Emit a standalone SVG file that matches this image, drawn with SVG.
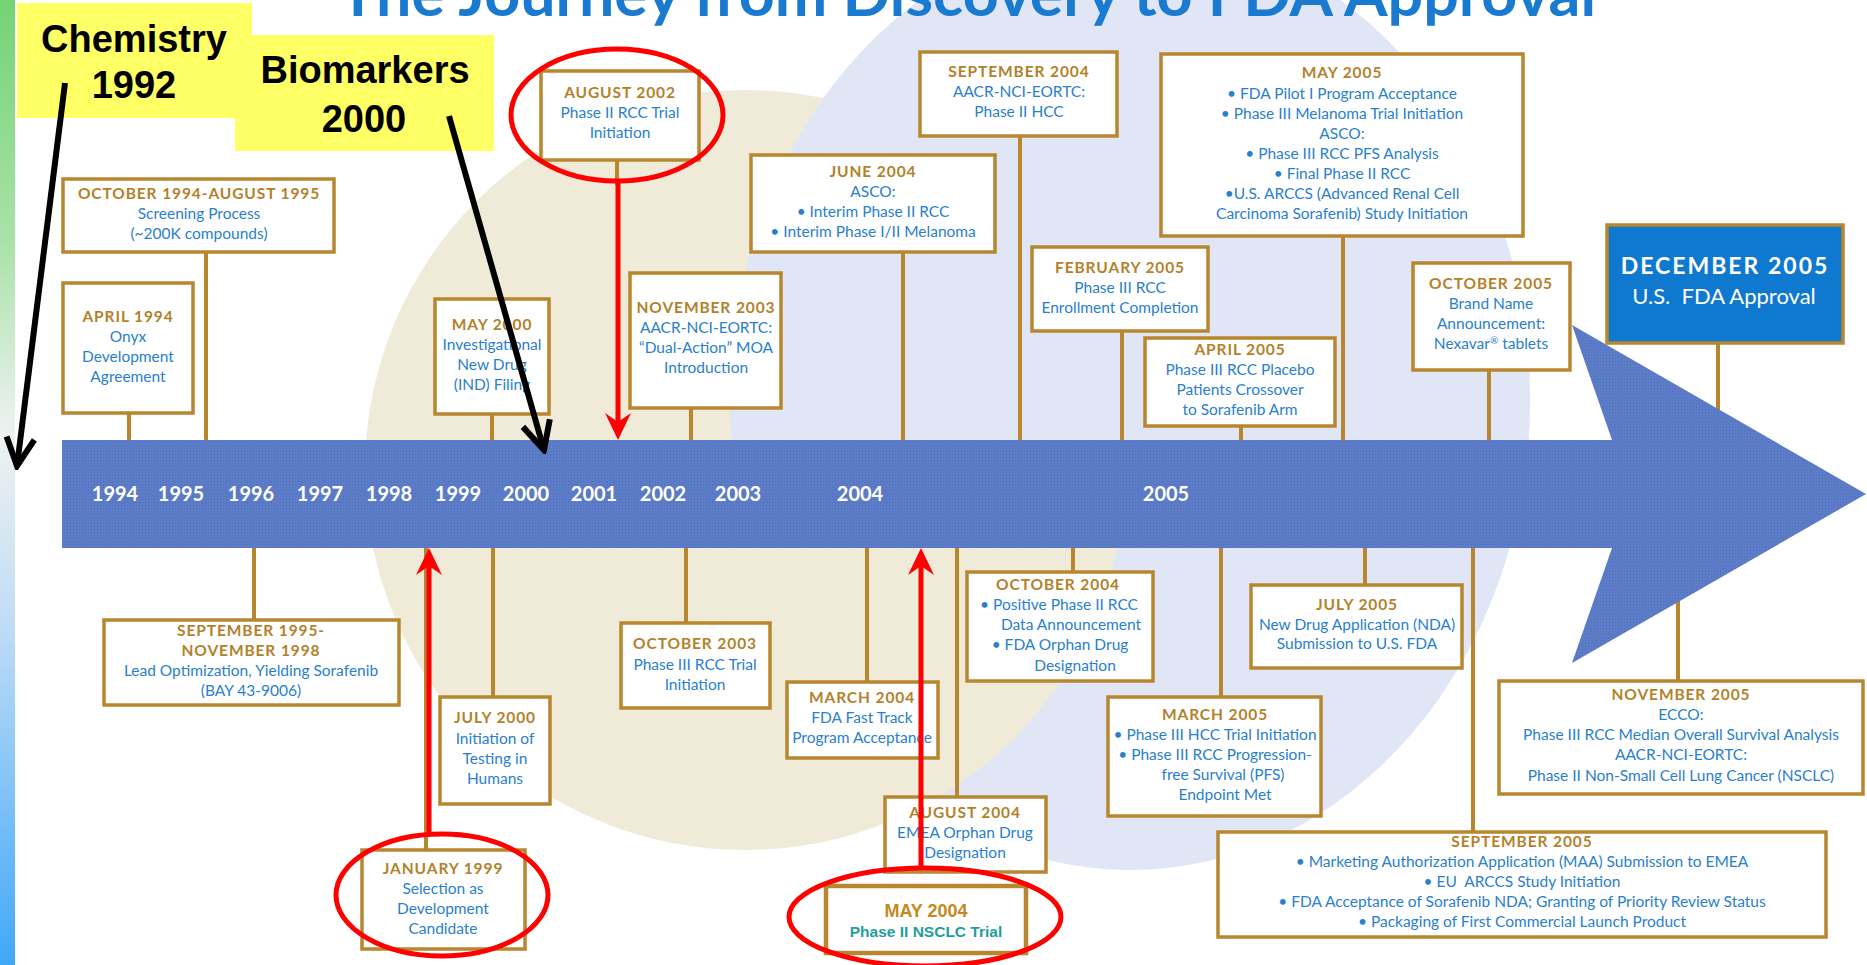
<svg xmlns="http://www.w3.org/2000/svg" width="1867" height="965" viewBox="0 0 1867 965">
<defs>
<style>
.box{fill:#fff;stroke:#b8862e;stroke-width:3.5}
.hd{font-family:Lato,'Liberation Sans',sans-serif;font-weight:700;font-size:15.5px;fill:#b3812a;letter-spacing:0.9px;text-anchor:middle}
.tx{font-family:Lato,'Liberation Sans',sans-serif;font-size:15.5px;fill:#2a80cd;text-anchor:middle}
.conn{stroke:#b8862e;stroke-width:4;fill:none}
.yr{font-family:Lato,'Liberation Sans',sans-serif;font-weight:700;font-size:20px;fill:#fff;text-anchor:middle}
.red{stroke:#ff0000;stroke-width:5;fill:none}
.blk{stroke:#000;stroke-width:6;fill:none}
.ylw{fill:#ffff66}
.big{font-family:'Liberation Sans',Arial,sans-serif;font-weight:700;font-size:38px;fill:#000;text-anchor:middle}
</style>
<linearGradient id="strip" x1="0" y1="0" x2="0" y2="1">
<stop offset="0" stop-color="#74d374"/>
<stop offset="0.25" stop-color="#a9e2a9"/>
<stop offset="0.45" stop-color="#eef2f1"/>
<stop offset="0.65" stop-color="#bfdcf6"/>
<stop offset="1" stop-color="#40a8f8"/>
</linearGradient>
<pattern id="barTex" width="3" height="3" patternUnits="userSpaceOnUse">
<rect width="3" height="3" fill="#5c7cc7"/>
<rect x="1" y="1" width="1" height="1" fill="#5070bd"/>
</pattern>
<clipPath id="upper"><rect x="0" y="0" width="1867" height="494"/></clipPath>
<marker id="arrBlk" markerUnits="userSpaceOnUse" viewBox="-34 -18 38 36" markerWidth="38" markerHeight="36" refX="0" refY="0" orient="auto">
<path d="M-28,-14 L0,0 L-28,14" fill="none" stroke="#000" stroke-width="6"/>
</marker>
<marker id="arrRed" markerUnits="userSpaceOnUse" viewBox="-30 -15 32 30" markerWidth="32" markerHeight="30" refX="-10" refY="0" orient="auto">
<path d="M0,0 L-27,-13 L-18,0 L-27,13 Z" fill="#ff0000"/>
</marker>
</defs>

<g id="background">
<rect width="1867" height="965" fill="#ffffff"/>
<ellipse cx="1130" cy="400" rx="400" ry="470" fill="#e1e6f6"/>
<circle cx="745" cy="470" r="380" fill="#f0ebd9"/>
<ellipse cx="1130" cy="400" rx="400" ry="470" fill="#e1e6f6" clip-path="url(#upper)"/>
<rect x="0" y="0" width="15" height="965" fill="url(#strip)"/>
<text x="339" y="16" textLength="1257" lengthAdjust="spacingAndGlyphs" style="font-family:Lato,'Liberation Sans',sans-serif;font-weight:700;font-size:62px;fill:#1a7ad0">The Journey from Discovery to FDA Approval</text>
</g>

<g id="connectors">
<line class="conn" x1="206" y1="252" x2="206" y2="445"/>
<line class="conn" x1="129" y1="413" x2="129" y2="445"/>
<line class="conn" x1="492" y1="414" x2="492" y2="445"/>
<line class="conn" x1="617" y1="159" x2="617" y2="185"/>
<line class="conn" x1="691" y1="408" x2="691" y2="445"/>
<line class="conn" x1="903" y1="252" x2="903" y2="445"/>
<line class="conn" x1="1020" y1="136" x2="1020" y2="445"/>
<line class="conn" x1="1122" y1="331" x2="1122" y2="445"/>
<line class="conn" x1="1241" y1="426" x2="1241" y2="445"/>
<line class="conn" x1="1343" y1="236" x2="1343" y2="445"/>
<line class="conn" x1="1489" y1="370" x2="1489" y2="445"/>
<line class="conn" x1="1718" y1="343" x2="1718" y2="420"/>
<line class="conn" x1="254" y1="543" x2="254" y2="620"/>
<line class="conn" x1="493" y1="543" x2="493" y2="697"/>
<line class="conn" x1="426" y1="543" x2="426" y2="850"/>
<line class="conn" x1="686" y1="543" x2="686" y2="623"/>
<line class="conn" x1="867" y1="543" x2="867" y2="682"/>
<line class="conn" x1="957" y1="543" x2="957" y2="797"/>
<line class="conn" x1="1073" y1="543" x2="1073" y2="572"/>
<line class="conn" x1="1221" y1="543" x2="1221" y2="697"/>
<line class="conn" x1="1365" y1="543" x2="1365" y2="585"/>
<line class="conn" x1="1473" y1="543" x2="1473" y2="832"/>
<line class="conn" x1="1678" y1="595" x2="1678" y2="681"/>
</g>

<g id="timeline">
<polygon points="62,440 1612,440 1572,325 1866,494 1572,663 1612,548 62,548" fill="url(#barTex)"/>
<text class="yr" x="115" y="501">1994</text>
<text class="yr" x="181" y="501">1995</text>
<text class="yr" x="251" y="501">1996</text>
<text class="yr" x="320" y="501">1997</text>
<text class="yr" x="389" y="501">1998</text>
<text class="yr" x="458" y="501">1999</text>
<text class="yr" x="526" y="501">2000</text>
<text class="yr" x="594" y="501">2001</text>
<text class="yr" x="663" y="501">2002</text>
<text class="yr" x="738" y="501">2003</text>
<text class="yr" x="860" y="501">2004</text>
<text class="yr" x="1166" y="501">2005</text>
</g>

<g id="chemistry-1992">
<rect class="ylw" x="17" y="3" width="235" height="115"/>
<text class="big" x="134" y="52">Chemistry</text>
<text class="big" x="134" y="98">1992</text>
</g>
<g id="biomarkers-2000">
<rect class="ylw" x="235" y="35" width="259" height="116"/>
<text class="big" x="365" y="83">Biomarkers</text>
<text class="big" x="364" y="132">2000</text>
</g>

<g id="oct1994-aug1995">
<rect class="box" x="63" y="179" width="271" height="73"/>
<text class="hd" x="199" y="199">OCTOBER 1994-AUGUST 1995</text>
<text class="tx" x="199" y="219">Screening Process</text>
<text class="tx" x="199" y="239">(~200K compounds)</text>
</g>
<g id="apr1994">
<rect class="box" x="63" y="283" width="130" height="130"/>
<text class="hd" x="128" y="322">APRIL 1994</text>
<text class="tx" x="128" y="342">Onyx</text>
<text class="tx" x="128" y="362">Development</text>
<text class="tx" x="128" y="382">Agreement</text>
</g>
<g id="may2000">
<rect class="box" x="435" y="299" width="114" height="115"/>
<text class="hd" x="492" y="330">MAY 2000</text>
<text class="tx" x="492" y="350">Investigational</text>
<text class="tx" x="492" y="370">New Drug</text>
<text class="tx" x="492" y="390">(IND) Filing</text>
</g>
<g id="aug2002">
<rect class="box" x="541" y="71" width="158" height="89"/>
<text class="hd" x="620" y="98">AUGUST 2002</text>
<text class="tx" x="620" y="118">Phase II RCC Trial</text>
<text class="tx" x="620" y="138">Initiation</text>
</g>
<g id="nov2003">
<rect class="box" x="630" y="273" width="151" height="135"/>
<text class="hd" x="706" y="313">NOVEMBER 2003</text>
<text class="tx" x="706" y="333">AACR-NCI-EORTC:</text>
<text class="tx" x="706" y="353">“Dual-Action” MOA</text>
<text class="tx" x="706" y="373">Introduction</text>
</g>
<g id="jun2004">
<rect class="box" x="751" y="155" width="244" height="97"/>
<text class="hd" x="873" y="177">JUNE 2004</text>
<text class="tx" x="873" y="197">ASCO:</text>
<text class="tx" x="873" y="217">• Interim Phase II RCC</text>
<text class="tx" x="873" y="237">• Interim Phase I/II Melanoma</text>
</g>
<g id="sep2004">
<rect class="box" x="920" y="52" width="197" height="84"/>
<text class="hd" x="1019" y="77">SEPTEMBER 2004</text>
<text class="tx" x="1019" y="97">AACR-NCI-EORTC:</text>
<text class="tx" x="1019" y="117">Phase II HCC</text>
</g>
<g id="feb2005">
<rect class="box" x="1032" y="247" width="176" height="84"/>
<text class="hd" x="1120" y="273">FEBRUARY 2005</text>
<text class="tx" x="1120" y="293">Phase III RCC</text>
<text class="tx" x="1120" y="313">Enrollment Completion</text>
</g>
<g id="apr2005">
<rect class="box" x="1145" y="338" width="190" height="88"/>
<text class="hd" x="1240" y="355">APRIL 2005</text>
<text class="tx" x="1240" y="375">Phase III RCC Placebo</text>
<text class="tx" x="1240" y="395">Patients Crossover</text>
<text class="tx" x="1240" y="415">to Sorafenib Arm</text>
</g>
<g id="may2005">
<rect class="box" x="1161" y="54" width="362" height="182"/>
<text class="hd" x="1342" y="78">MAY 2005</text>
<text class="tx" x="1342" y="99">• FDA Pilot I Program Acceptance</text>
<text class="tx" x="1342" y="119">• Phase III Melanoma Trial Initiation</text>
<text class="tx" x="1342" y="139">ASCO:</text>
<text class="tx" x="1342" y="159">• Phase III RCC PFS Analysis</text>
<text class="tx" x="1342" y="179">• Final Phase II RCC</text>
<text class="tx" x="1342" y="199">•U.S. ARCCS (Advanced Renal Cell</text>
<text class="tx" x="1342" y="219">Carcinoma Sorafenib) Study Initiation</text>
</g>
<g id="oct2005">
<rect class="box" x="1413" y="263" width="157" height="107"/>
<text class="hd" x="1491" y="289">OCTOBER 2005</text>
<text class="tx" x="1491" y="309">Brand Name</text>
<text class="tx" x="1491" y="329">Announcement:</text>
<text class="tx" x="1491" y="349">Nexavar<tspan font-size="10" dy="-5">®</tspan><tspan dy="5"> tablets</tspan></text>
</g>
<g id="dec2005">
<rect x="1607" y="225" width="236" height="118" fill="#0f78cf" stroke="#b8862e" stroke-width="3.5"/>
<text x="1725" y="274" style="font-family:Lato,'Liberation Sans',sans-serif;font-weight:700;font-size:23px;fill:#fff;letter-spacing:2px;text-anchor:middle">DECEMBER 2005</text>
<text x="1724" y="304" style="font-family:Lato,'Liberation Sans',sans-serif;font-size:22px;fill:#fff;text-anchor:middle">U.S.&#160; FDA Approval</text>
</g>

<g id="sep1995-nov1998">
<rect class="box" x="104" y="620" width="295" height="85"/>
<text class="hd" x="251" y="636">SEPTEMBER 1995-</text>
<text class="hd" x="251" y="656">NOVEMBER 1998</text>
<text class="tx" x="251" y="676">Lead Optimization, Yielding Sorafenib</text>
<text class="tx" x="251" y="696">(BAY 43-9006)</text>
</g>
<g id="jul2000">
<rect class="box" x="440" y="697" width="110" height="107"/>
<text class="hd" x="495" y="723">JULY 2000</text>
<text class="tx" x="495" y="744">Initiation of</text>
<text class="tx" x="495" y="764">Testing in</text>
<text class="tx" x="495" y="784">Humans</text>
</g>
<g id="jan1999">
<rect class="box" x="362" y="850" width="163" height="99"/>
<text class="hd" x="443" y="874">JANUARY 1999</text>
<text class="tx" x="443" y="894">Selection as</text>
<text class="tx" x="443" y="914">Development</text>
<text class="tx" x="443" y="934">Candidate</text>
</g>
<g id="oct2003">
<rect class="box" x="621" y="623" width="149" height="85"/>
<text class="hd" x="695" y="649">OCTOBER 2003</text>
<text class="tx" x="695" y="670">Phase III RCC Trial</text>
<text class="tx" x="695" y="690">Initiation</text>
</g>
<g id="mar2004">
<rect class="box" x="787" y="682" width="151" height="76"/>
<text class="hd" x="862" y="703">MARCH 2004</text>
<text class="tx" x="862" y="723">FDA Fast Track</text>
<text class="tx" x="862" y="743">Program Acceptance</text>
</g>
<g id="aug2004">
<rect class="box" x="885" y="797" width="161" height="75"/>
<text class="hd" x="965" y="818">AUGUST 2004</text>
<text class="tx" x="965" y="838">EMEA Orphan Drug</text>
<text class="tx" x="965" y="858">Designation</text>
</g>
<g id="may2004">
<rect x="826" y="886" width="200" height="67" fill="#fff" stroke="#b8862e" stroke-width="4.5"/>
<text x="926" y="917" style="font-family:'Liberation Sans',Arial,sans-serif;font-weight:700;font-size:18px;fill:#c48a1c;text-anchor:middle">MAY 2004</text>
<text x="926" y="937" style="font-family:'Liberation Sans',Arial,sans-serif;font-weight:700;font-size:15.5px;fill:#1f9e9e;text-anchor:middle">Phase II NSCLC Trial</text>
</g>
<g id="oct2004">
<rect class="box" x="967" y="572" width="186" height="109"/>
<text class="hd" x="1058" y="590">OCTOBER 2004</text>
<text class="tx" x="1059" y="610">• Positive Phase II RCC</text>
<text class="tx" x="1071" y="630">Data Announcement</text>
<text class="tx" x="1060" y="650">• FDA Orphan Drug</text>
<text class="tx" x="1075" y="671">Designation</text>
</g>
<g id="mar2005">
<rect class="box" x="1108" y="697" width="213" height="119"/>
<text class="hd" x="1215" y="720">MARCH 2005</text>
<text class="tx" x="1215" y="740">• Phase III HCC Trial Initiation</text>
<text class="tx" x="1215" y="760">• Phase III RCC Progression-</text>
<text class="tx" x="1223" y="780">free Survival (PFS)</text>
<text class="tx" x="1225" y="800">Endpoint Met</text>
</g>
<g id="jul2005">
<rect class="box" x="1251" y="585" width="211" height="83"/>
<text class="hd" x="1357" y="610">JULY 2005</text>
<text class="tx" x="1357" y="630">New Drug Application (NDA)</text>
<text class="tx" x="1357" y="649">Submission to U.S. FDA</text>
</g>
<g id="sep2005">
<rect class="box" x="1218" y="832" width="608" height="105"/>
<text class="hd" x="1522" y="847">SEPTEMBER 2005</text>
<text class="tx" x="1522" y="867">• Marketing Authorization Application (MAA) Submission to EMEA</text>
<text class="tx" x="1522" y="887">• EU&#160; ARCCS Study Initiation</text>
<text class="tx" x="1522" y="907">• FDA Acceptance of Sorafenib NDA; Granting of Priority Review Status</text>
<text class="tx" x="1522" y="927">• Packaging of First Commercial Launch Product</text>
</g>
<g id="nov2005">
<rect class="box" x="1499" y="681" width="364" height="113"/>
<text class="hd" x="1681" y="700">NOVEMBER 2005</text>
<text class="tx" x="1681" y="720">ECCO:</text>
<text class="tx" x="1681" y="740">Phase III RCC Median Overall Survival Analysis</text>
<text class="tx" x="1681" y="760">AACR-NCI-EORTC:</text>
<text class="tx" x="1681" y="781">Phase II Non-Small Cell Lung Cancer (NSCLC)</text>
</g>

<g id="annotations">
<ellipse class="red" cx="617" cy="115" rx="106" ry="66"/>
<ellipse class="red" cx="442" cy="895" rx="106" ry="61"/>
<ellipse class="red" cx="925" cy="917" rx="136" ry="49"/>
<line class="red" x1="618" y1="182" x2="618" y2="430" marker-end="url(#arrRed)"/>
<line class="red" x1="429" y1="834" x2="429" y2="558" marker-end="url(#arrRed)"/>
<line class="red" x1="921" y1="868" x2="921" y2="558" marker-end="url(#arrRed)"/>
<line class="blk" x1="65" y1="83" x2="17" y2="466" marker-end="url(#arrBlk)"/>
<line class="blk" x1="449" y1="116" x2="544" y2="450" marker-end="url(#arrBlk)"/>
</g>
</svg>
